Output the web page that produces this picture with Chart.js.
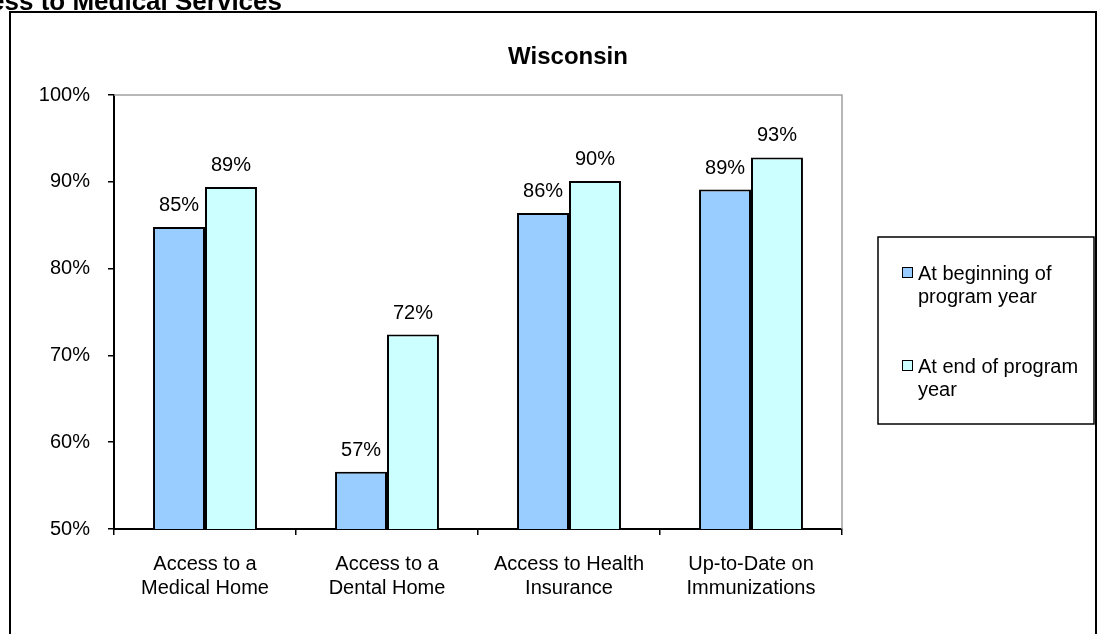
<!DOCTYPE html>
<html>
<head>
<meta charset="utf-8">
<script src="https://cdn.jsdelivr.net/npm/chart.js@4/dist/chart.umd.min.js"></script>
<style>
  html, body { margin: 0; padding: 0; background: #fff; }
  #wrap { position: relative; width: 1099px; height: 634px; overflow: hidden; }
  canvas { display: block; }
</style>
</head>
<body>
<div id="wrap"><canvas id="c" width="1099" height="634"></canvas></div>
<script>
const pageHeading = "Access to Medical Services";
const chartTitle = "Wisconsin";
const categories = [
  ["Access to a", "Medical Home"],
  ["Access to a", "Dental Home"],
  ["Access to Health", "Insurance"],
  ["Up-to-Date on", "Immunizations"]
];
const seriesNames = ["At beginning of program year", "At end of program year"];
const beginningValues = [84.8, 56.6, 86.4, 89.1];
const endValues = [89.4, 72.4, 90.1, 92.8];
const yTicks = [50, 60, 70, 80, 90, 100];

const FONT = "'Liberation Sans', Arial, sans-serif";

const decorPlugin = {
  id: 'decor',
  beforeDraw(chart) {
    const ctx = chart.ctx;
    ctx.save();
    ctx.fillStyle = '#fff';
    ctx.fillRect(0, 0, chart.width, chart.height);
    ctx.restore();
  },
  afterDatasetsDraw(chart) {
    const ctx = chart.ctx;
    const a = chart.chartArea;
    ctx.save();
    ctx.strokeStyle = '#a0a0a0';
    ctx.lineWidth = 1.5;
    ctx.beginPath();
    ctx.moveTo(a.left, a.top);
    ctx.lineTo(a.right, a.top);
    ctx.lineTo(a.right, a.bottom);
    ctx.stroke();
    ctx.fillStyle = '#000';
    ctx.font = '20px ' + FONT;
    ctx.textAlign = 'center';
    ctx.textBaseline = 'alphabetic';
    chart.data.datasets.forEach((ds, i) => {
      const meta = chart.getDatasetMeta(i);
      meta.data.forEach((bar, j) => {
        ctx.fillText(Math.round(ds.data[j]) + '%', bar.x, bar.y - 16);
      });
    });
    ctx.restore();
  },
  afterDraw(chart) {
    const ctx = chart.ctx;
    ctx.save();
    ctx.strokeStyle = '#000';
    ctx.lineWidth = 2;
    ctx.strokeRect(10, 12, 1086, 700);
    ctx.fillStyle = '#000';
    ctx.font = 'bold 26px ' + FONT;
    ctx.textAlign = 'right';
    ctx.textBaseline = 'alphabetic';
    ctx.fillText(pageHeading, 282, 10);
    ctx.font = 'bold 24px ' + FONT;
    ctx.textAlign = 'center';
    ctx.fillText(chartTitle, 568, 64);
    ctx.lineWidth = 1.5;
    ctx.strokeStyle = '#000';
    ctx.strokeRect(878, 237, 216, 187);
    ctx.font = '20px ' + FONT;
    ctx.textAlign = 'left';
    const itemTops = [280, 373];
    chart.data.datasets.forEach((ds, i) => {
      const base = itemTops[i];
      ctx.fillStyle = ds.backgroundColor;
      ctx.fillRect(902, base - 13, 10, 10);
      ctx.strokeStyle = '#000';
      ctx.lineWidth = 1;
      ctx.strokeRect(902.5, base - 12.5, 10, 10);
      const words = ds.label.split(' ');
      const lines = [];
      let cur = '';
      words.forEach(w => {
        const t = cur ? cur + ' ' + w : w;
        if (ctx.measureText(t).width > 168 && cur) { lines.push(cur); cur = w; }
        else cur = t;
      });
      if (cur) lines.push(cur);
      ctx.fillStyle = '#000';
      lines.forEach((ln, k) => ctx.fillText(ln, 918, base + k * 23));
    });
    ctx.restore();
  }
};

new Chart(document.getElementById('c'), {
  type: 'bar',
  data: {
    labels: categories,
    datasets: [
      { label: seriesNames[0], data: beginningValues, backgroundColor: '#99ccff', borderColor: '#000', borderWidth: 2, borderSkipped: false },
      { label: seriesNames[1], data: endValues, backgroundColor: '#ccffff', borderColor: '#000', borderWidth: 2, borderSkipped: false }
    ]
  },
  options: {
    responsive: false,
    animation: false,
    events: [],
    layout: { padding: { left: 0, top: 95, right: 257, bottom: 0 } },
    datasets: { bar: { categoryPercentage: 0.571, barPercentage: 1.0 } },
    plugins: {
      legend: { display: false },
      title: { display: false },
      tooltip: { enabled: false }
    },
    scales: {
      x: {
        offset: true,
        grid: { drawOnChartArea: false, drawTicks: true, tickLength: 6, color: '#000', lineWidth: 1.5, offset: true },
        border: { display: true, color: '#000', width: 2 },
        ticks: { color: '#000', padding: 17, font: { family: FONT, size: 20, lineHeight: 1.2 }, maxRotation: 0, autoSkip: false },
        afterFit(s) { s.height = 105; }
      },
      y: {
        min: 50,
        max: 100,
        afterBuildTicks(s) { s.ticks = yTicks.map(v => ({ value: v })); },
        grid: { drawOnChartArea: false, drawTicks: true, tickLength: 6, color: '#000', lineWidth: 1.5 },
        border: { display: true, color: '#000', width: 2 },
        ticks: { color: '#000', padding: 18, font: { family: FONT, size: 20 }, callback: v => v + '%' },
        afterFit(s) { s.width = 114; }
      }
    }
  },
  plugins: [decorPlugin]
});
</script>
</body>
</html>
